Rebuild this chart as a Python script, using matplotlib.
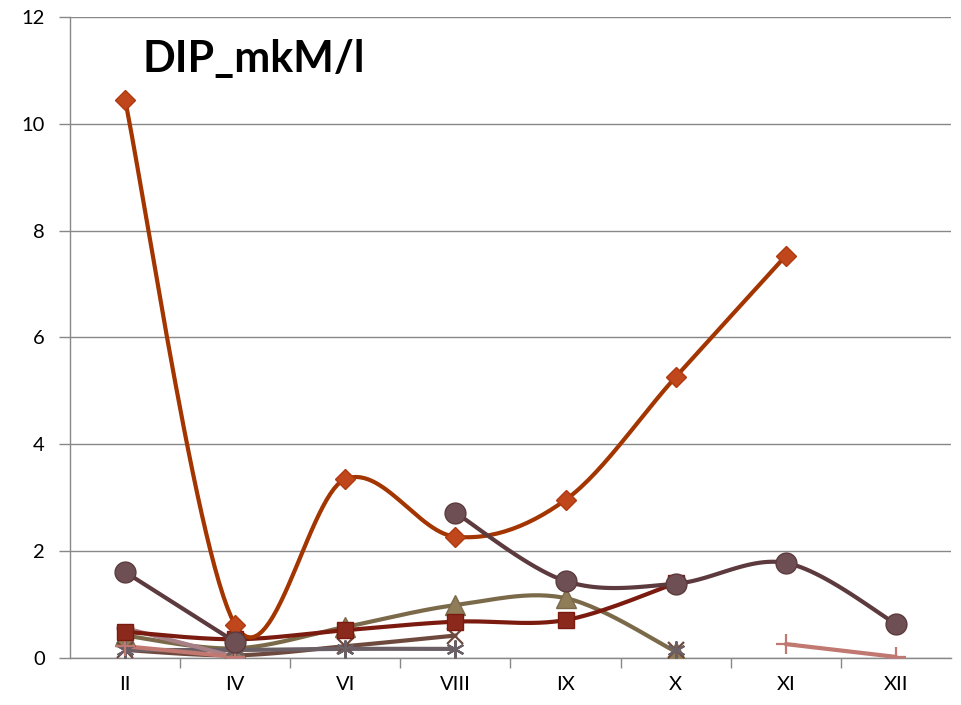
import matplotlib
matplotlib.use('Agg')
import matplotlib.pyplot as plt
import numpy as np

plt.rcParams['font.family'] = ['Lato', 'DejaVu Sans']

months = ['II', 'IV', 'VI', 'VIII', 'IX', 'X', 'XI', 'XII']
nan = np.nan

# one series per station, NaN where nothing was sampled
s_diamond = [10.45, 0.62, 3.35, 2.27, 2.96, 5.26, 7.53, nan]
s_square = [0.49, 0.35, 0.52, 0.68, 0.71, 1.40, nan, nan]
s_triangle = [0.42, 0.18, 0.58, 0.99, 1.12, 0.12, nan, nan]
s_cross = [0.15, 0.05, 0.22, 0.42, nan, 0.15, nan, nan]
s_star = [0.15, 0.15, 0.17, 0.17, nan, 0.15, nan, nan]
s_circle = [1.61, 0.30, nan, 2.72, 1.44, 1.39, 1.78, 0.64]
s_plus = [0.22, 0.02, nan, nan, nan, nan, 0.26, 0.02]
s_dash = [0.56, 0.02, nan, nan, nan, nan, nan, 0.02]

styles = [
    (s_triangle, '#7A6A4A', dict(marker='^', ms=14, mfc='#8F7D5A', mec='#7A6A4A')),
    (s_cross, '#6E4A3E', dict(marker='x', ms=11, mew=1.6, mec='#6E4A3E')),
    (s_star, '#6B5F66', dict(marker=(6, 2, 0), ms=13, mew=1.6, mec='#6B5F66')),
    (s_dash, '#A88088', dict(marker='_', ms=13, mew=2.2, mec='#A88088')),
    (s_plus, '#C07870', dict(marker='+', ms=15, mew=1.6, mec='#C07870')),
    (s_square, '#7B1B10', dict(marker='s', ms=12, mfc='#8B2A1C', mec='#7B1B10')),
    (s_diamond, '#A33500', dict(marker='D', ms=10, mfc='#C0461C', mec='#B03A10')),
    (s_circle, '#5C3A3E', dict(marker='o', ms=15, mfc='#6E5054', mec='#5C3A3E')),
]


def smooth(xs, ys, n=30):
    # Catmull-Rom curve through the points, like a smoothed line in a spreadsheet
    if len(xs) < 3:
        return np.array(xs), np.array(ys)
    px, py = [], []
    for i in range(len(xs) - 1):
        x0, y0 = (xs[i - 1], ys[i - 1]) if i > 0 else (xs[i], ys[i])
        x1, y1 = xs[i], ys[i]
        x2, y2 = xs[i + 1], ys[i + 1]
        x3, y3 = (xs[i + 2], ys[i + 2]) if i + 2 < len(xs) else (x2, y2)
        c1 = (x1 + (x2 - x0) / 6, y1 + (y2 - y0) / 6)
        c2 = (x2 - (x3 - x1) / 6, y2 - (y3 - y1) / 6)
        t = np.linspace(0, 1, n)
        b = [(1 - t) ** 3, 3 * (1 - t) ** 2 * t, 3 * (1 - t) * t ** 2, t ** 3]
        px.extend(b[0] * x1 + b[1] * c1[0] + b[2] * c2[0] + b[3] * x2)
        py.extend(b[0] * y1 + b[1] * c1[1] + b[2] * c2[1] + b[3] * y2)
    return np.array(px), np.array(py)


fig = plt.figure(figsize=(9.61, 7.05), dpi=100)
ax = fig.add_axes([0.0728, 0.0667, 0.9168, 0.9092])

x = np.arange(len(months))
for vals, col, mk in styles:
    v = np.array(vals, dtype=float)
    ok = ~np.isnan(v)
    # split into runs of consecutive values
    idx = np.where(ok)[0]
    runs = np.split(idx, np.where(np.diff(idx) > 1)[0] + 1)
    for r in runs:
        if len(r) == 0:
            continue
        sx, sy = smooth(list(x[r]), list(v[r]))
        ax.plot(sx, sy, color=col, lw=3, solid_capstyle='round', zorder=2)
    ax.plot(x[ok], v[ok], ls='none', zorder=3, **mk)

ax.set_xlim(-0.5, len(months) - 0.5)
ax.set_ylim(0, 12)
ax.set_yticks(range(0, 13, 2))
ax.set_xticks(x)
ax.set_xticklabels(months)
ax.set_xticks(np.arange(0.5, len(months) - 0.5, 1), minor=True)
ax.tick_params(axis='x', which='major', length=0, pad=13, labelsize=14.5)
ax.tick_params(axis='x', which='minor', length=7, color='#888888', width=1)
ax.tick_params(axis='y', length=8, color='#888888', width=1, labelsize=14.5, pad=10)
ax.grid(axis='y', color='#888888', lw=1)
ax.set_axisbelow(True)
for side in ['top', 'right']:
    ax.spines[side].set_visible(False)
for side in ['left', 'bottom']:
    ax.spines[side].set_color('#888888')
    ax.spines[side].set_linewidth(1)

ax.text(0.082, 0.935, 'DIP_mkM/l', transform=ax.transAxes, fontsize=31,
        fontweight='bold', va='center', ha='left')

fig.savefig('out.png', dpi=100)
